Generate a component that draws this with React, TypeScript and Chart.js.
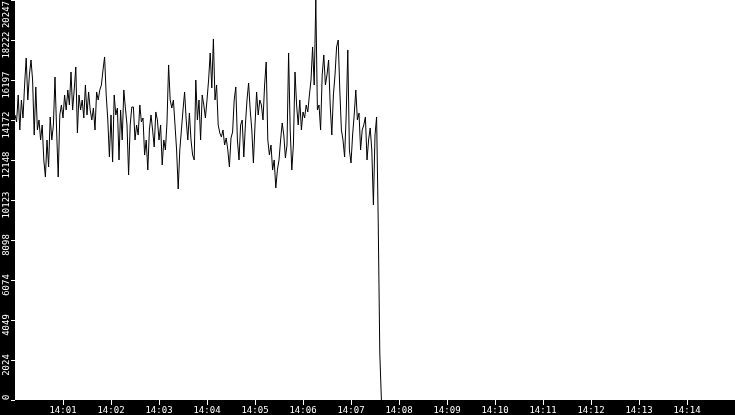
import { useEffect, useRef } from 'react';
import { Chart, registerables } from 'chart.js';

Chart.register(...registerables);

// one sample every 2 seconds, starting 14:00:00
const SAMPLE_SECONDS = 2;

// readings
const values = [
  14427, 14072, 15439, 13667, 15186, 14275, 15945, 17312, 15186, 16452,
  17211, 16198, 13414, 15844, 13667, 14174, 13161, 13920, 12149, 11288,
  13161, 11794, 14325, 13161, 13920, 16350, 13667, 11288, 14427, 14933,
  14275, 15439, 14680, 15692, 14933, 16603, 14680, 15692, 16856, 13515,
  15439, 14680, 15186, 14275, 15945, 14427, 15591, 14680, 14174, 14781,
  13667, 15591, 15186, 15692, 15945, 16705, 17363, 15439, 14174, 12301,
  14427, 12048, 15439, 14427, 14781, 12149, 14680, 13161, 15692, 14781,
  13920, 11389, 13920, 14832, 14832, 13161, 13920, 13414, 14933, 14072,
  14275, 12402, 13161, 11643, 13667, 14427, 13667, 12807, 14579, 14174,
  13161, 13920, 11896, 13161, 12655, 14072, 16958, 15186, 14781, 15186,
  13920, 12655, 10681, 12655, 13667, 14680, 15591, 14174, 13161, 14528,
  13161, 12402, 12149, 16198, 14174, 15186, 13161, 15439, 14933, 14275,
  15186, 16198, 17565, 15793, 18274, 15186, 15945, 13920, 13515, 13313,
  13667, 12908, 13262, 12655, 11794, 13262, 13566, 15186, 15844, 13161,
  12149, 13920, 14174, 12301, 13920, 15186, 16047, 14680, 13667, 11997,
  13920, 15591, 14427, 15186, 14933, 14174, 15945, 17110, 13161, 12402,
  12908, 11643, 12149, 10731, 11643, 12149, 13161, 14022, 13414, 12250,
  12908, 17565, 13667, 11643, 12908, 16603, 14933, 13920, 15186, 13667,
  14579, 14275, 14933, 14579, 15439, 16198, 17869, 15945, 20247, 14680,
  14933, 13667, 16452, 17464, 15945, 16452, 17211, 14933, 13414, 15439,
  16452, 17869, 18223, 15692, 13667, 13161, 12301, 14427, 17717, 12655,
  11997, 13414, 14427, 15692, 14174, 14528, 12655, 13667, 13920, 14325,
  12149, 13161, 13769, 12655, 9871, 13414, 14325, 9112, 2379, 0,
];

const times = values.map((_, i) => i * SAMPLE_SECONDS);

const yTicks = [0, 2024, 4049, 6074, 8098, 10123, 12148, 14172, 16197, 18222, 20247];

const xTickSeconds = [60, 120, 180, 240, 300, 360, 420, 480, 540, 600, 660, 720, 780, 840];
const xTickLabels = ['14:01', '14:02', '14:03', '14:04', '14:05', '14:06', '14:07', '14:08', '14:09', '14:10', '14:11', '14:12', '14:13', '14:14'];

const FONT = '"DejaVu Sans Mono", monospace';

// black frame around a white plot, plus the rotated y labels
const framePlugin = {
  id: 'frame',
  beforeDraw(chart: Chart) {
    const { ctx, chartArea: a, width, height } = chart;
    ctx.save();
    ctx.fillStyle = '#000';
    ctx.fillRect(0, 0, width, height);
    ctx.fillStyle = '#fff';
    ctx.fillRect(a.left, a.top, a.right - a.left, a.bottom - a.top);
    ctx.restore();
  },
  afterDraw(chart: Chart) {
    const { ctx, chartArea: a } = chart;
    const yScale = chart.scales.y;
    ctx.save();
    ctx.fillStyle = '#fff';
    ctx.font = `9px ${FONT}`;
    ctx.textAlign = 'center';
    ctx.textBaseline = 'alphabetic';
    yTicks.forEach((v) => {
      const label = String(v);
      const w = ctx.measureText(label).width;
      let cy = yScale.getPixelForValue(v) + 5;
      cy = Math.min(Math.max(cy, a.top + w / 2 + 1), a.bottom - w / 2);
      ctx.save();
      ctx.translate(a.left - 6, cy);
      ctx.rotate(-Math.PI / 2);
      ctx.fillText(label, 0, 0);
      ctx.restore();
    });
    ctx.restore();
  },
};

function TrafficChart() {
  const canvasRef = useRef<HTMLCanvasElement>(null);
  const chartRef = useRef<Chart | null>(null);

  useEffect(() => {
    if (!canvasRef.current) return;
    if (chartRef.current) chartRef.current.destroy();

    const points = times.map((t, i) => ({ x: t, y: values[i] }));

    chartRef.current = new Chart(canvasRef.current, {
      type: 'line',
      data: {
        datasets: [
          {
            data: points,
            borderColor: '#000',
            borderWidth: 1,
            pointRadius: 0,
            tension: 0,
            fill: false,
          },
        ],
      },
      options: {
        animation: false,
        responsive: false,
        devicePixelRatio: 1,
        layout: { padding: 0 },
        plugins: {
          legend: { display: false },
          tooltip: { enabled: false },
        },
        scales: {
          x: {
            type: 'linear',
            position: 'bottom',
            min: 0,
            max: 900,
            afterBuildTicks: (scale) => {
              scale.ticks = xTickSeconds.map((value) => ({ value }));
            },
            afterFit: (scale) => {
              scale.height = 15;
            },
            border: { display: false },
            grid: {
              drawOnChartArea: false,
              drawTicks: true,
              tickLength: 5,
              color: '#fff',
            },
            ticks: {
              color: '#fff',
              padding: 0,
              autoSkip: false,
              maxRotation: 0,
              font: { family: FONT, size: 9 },
              callback: (value) => {
                const idx = xTickSeconds.indexOf(Number(value));
                return idx >= 0 ? xTickLabels[idx] : '';
              },
            },
          },
          y: {
            type: 'linear',
            position: 'left',
            min: 0,
            max: Math.max(...values),
            afterBuildTicks: (scale) => {
              scale.ticks = yTicks.map((value) => ({ value }));
            },
            afterFit: (scale) => {
              scale.width = 15;
            },
            border: { display: false },
            grid: {
              drawOnChartArea: false,
              drawTicks: true,
              tickLength: 4,
              color: '#fff',
            },
            ticks: { display: false },
          },
        },
      },
      plugins: [framePlugin],
    });

    return () => {
      if (chartRef.current) {
        chartRef.current.destroy();
        chartRef.current = null;
      }
    };
  }, []);

  return (
    <div style={{ position: 'fixed', left: 0, top: 0, width: 735, height: 415 }}>
      <canvas ref={canvasRef} width={735} height={415} />
    </div>
  );
}

export default function App() {
  return <TrafficChart />;
}
